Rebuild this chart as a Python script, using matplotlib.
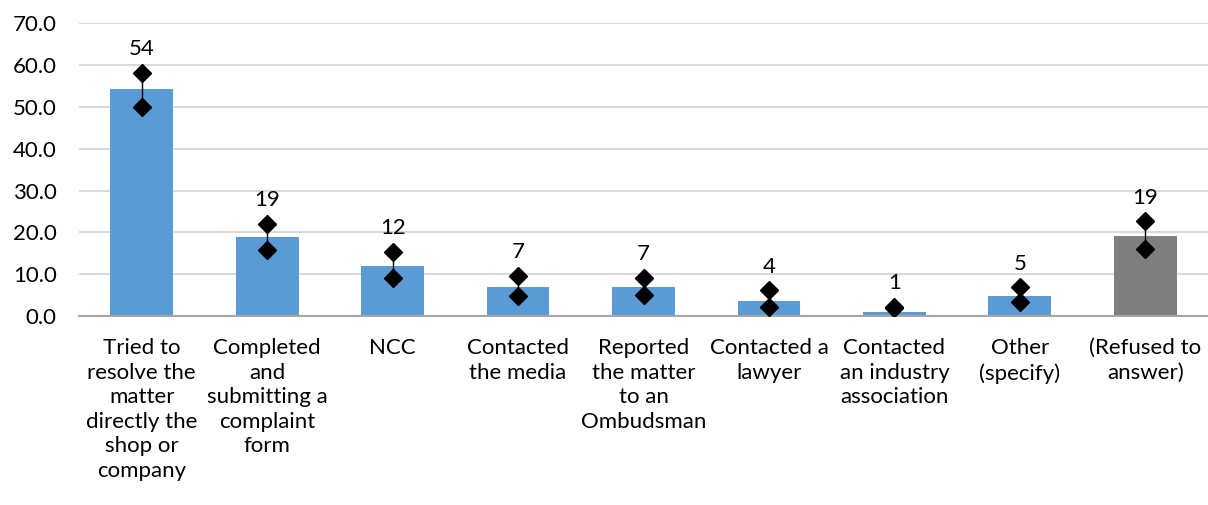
import numpy as np
import matplotlib.pyplot as plt

plt.rcParams["font.family"] = ["Lato", "DejaVu Sans"]

categories = [
    "Tried to\nresolve the\nmatter\ndirectly the\nshop or\ncompany",
    "Completed\nand\nsubmitting a\ncomplaint\nform",
    "NCC",
    "Contacted\nthe media",
    "Reported\nthe matter\nto an\nOmbudsman",
    "Contacted a\nlawyer",
    "Contacted\nan industry\nassociation",
    "Other\n(specify)",
    "(Refused to\nanswer)",
]
values = [54.2, 18.8, 12.0, 6.9, 6.9, 3.7, 1.1, 4.8, 19.1]
ci_low = [50.0, 15.7, 9.1, 4.9, 5.1, 2.2, 1.9, 3.3, 16.0]
ci_high = [58.2, 22.0, 15.4, 9.6, 9.1, 6.2, 2.3, 6.9, 22.7]
labels = ["54", "19", "12", "7", "7", "4", "1", "5", "19"]

colors = ["#5b9bd5"] * 8 + ["#7f7f7f"]

fig = plt.figure(figsize=(12.08, 5.05), dpi=100)
ax = fig.add_axes([0.0654, 0.374, 0.9346, 0.580])

x = np.arange(len(categories))
ax.bar(x, values, width=0.5, color=colors, zorder=2)

ax.vlines(x, ci_low, ci_high, color="black", linewidth=1, zorder=3)
ax.plot(x, ci_low, "D", color="black", markersize=9.5, linestyle="none", zorder=4)
ax.plot(x, ci_high, "D", color="black", markersize=9.5, linestyle="none", zorder=4)

for xi, hi, lab in zip(x, ci_high, labels):
    ax.annotate(lab, (xi, hi), xytext=(0, 17), textcoords="offset points",
                ha="center", va="center", fontsize=16)

ax.set_xlim(-0.5, len(categories) - 0.5)
ax.set_ylim(0, 70)
ax.set_yticks(np.arange(0, 71, 10))
ax.set_yticklabels([f"{v:.1f}" for v in np.arange(0, 71, 10)], fontsize=16)
ax.set_xticks(x)
ax.set_xticklabels(categories, fontsize=16, va="top", linespacing=1.28)
ax.tick_params(axis="both", length=0)
ax.tick_params(axis="x", pad=16)
ax.tick_params(axis="y", pad=16)

ax.yaxis.grid(True, color="#d9d9d9", linewidth=1.5, zorder=0)
ax.set_axisbelow(True)
for side in ["top", "right", "left"]:
    ax.spines[side].set_visible(False)
ax.spines["bottom"].set_color("#a6a6a6")
ax.spines["bottom"].set_linewidth(1.5)

fig.savefig("out.png", dpi=100)
